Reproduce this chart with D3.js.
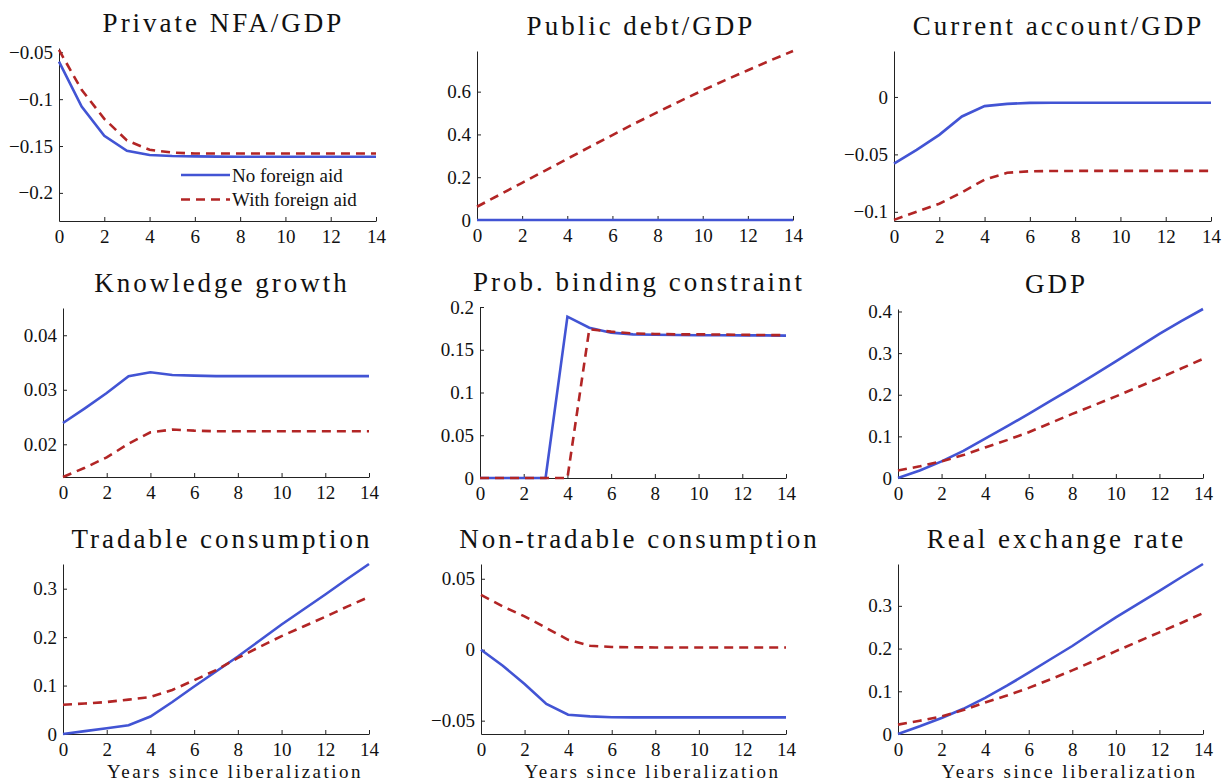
<!DOCTYPE html>
<html>
<head>
<meta charset="utf-8">
<script src="https://cdn.jsdelivr.net/npm/d3@7"></script>
<style>
  html, body { margin: 0; padding: 0; background: #fff; }
  svg { display: block; font-family: "Liberation Serif", serif; }
</style>
</head>
<body>
<svg id="chart" width="1225" height="782"></svg>
<script>
// years on the x axis
const years = [0, 1, 2, 3, 4, 5, 6, 7, 8, 9, 10, 11, 12, 13, 14];
const xTicks = [0, 2, 4, 6, 8, 10, 12, 14];

const titles = [
  "Private NFA/GDP", "Public debt/GDP", "Current account/GDP",
  "Knowledge growth", "Prob. binding constraint", "GDP",
  "Tradable consumption", "Non-tradable consumption", "Real exchange rate"
];

const seriesNames = ["No foreign aid", "With foreign aid"];
const xLabel = "Years since liberalization";

// y limits and ticks
const yDomains = [
  [-0.23, -0.0454], [0, 0.79], [-0.108, 0.04],
  [0.014, 0.045], [0, 0.2], [0, 0.406],
  [0, 0.351], [-0.0594, 0.0604], [0, 0.398]
];
const yTicks = [
  [-0.2, -0.15, -0.1, -0.05], [0, 0.2, 0.4, 0.6], [-0.1, -0.05, 0],
  [0.02, 0.03, 0.04], [0, 0.05, 0.1, 0.15, 0.2], [0, 0.1, 0.2, 0.3, 0.4],
  [0, 0.1, 0.2, 0.3], [-0.05, 0, 0.05], [0, 0.1, 0.2, 0.3]
];

// no foreign aid (solid blue)
const noAid = [
  [-0.06, -0.108, -0.139, -0.155, -0.1596, -0.1606, -0.161, -0.1613, -0.1614, -0.1615, -0.1615, -0.1615, -0.1615, -0.1615, -0.1615],
  [0, 0, 0, 0, 0, 0, 0, 0, 0, 0, 0, 0, 0, 0, 0],
  [-0.058, -0.046, -0.033, -0.017, -0.008, -0.006, -0.0052, -0.005, -0.005, -0.005, -0.005, -0.005, -0.005, -0.005, -0.005],
  [0.0239, 0.0266, 0.0294, 0.0325, 0.0332, 0.0327, 0.0326, 0.0325, 0.0325, 0.0325, 0.0325, 0.0325, 0.0325, 0.0325, 0.0325],
  [0, 0, 0, 0, 0.1887, 0.1758, 0.170, 0.168, 0.1675, 0.1672, 0.167, 0.167, 0.1668, 0.1668, 0.1665],
  [0, 0.018, 0.04, 0.065, 0.0944, 0.124, 0.154, 0.185, 0.216, 0.248, 0.28, 0.313, 0.346, 0.377, 0.406],
  [0, 0.006, 0.012, 0.018, 0.036, 0.066, 0.098, 0.129, 0.16, 0.193, 0.226, 0.257, 0.288, 0.32, 0.351],
  [0, -0.0113, -0.0242, -0.0382, -0.0458, -0.047, -0.0476, -0.0477, -0.0477, -0.0477, -0.0477, -0.0477, -0.0477, -0.0477, -0.0477],
  [0, 0.018, 0.0376, 0.059, 0.0847, 0.113, 0.1435, 0.175, 0.206, 0.24, 0.273, 0.304, 0.335, 0.367, 0.398]
];

// with foreign aid (dashed red)
const withAid = [
  [-0.0475, -0.09, -0.121, -0.144, -0.154, -0.157, -0.158, -0.158, -0.158, -0.158, -0.158, -0.158, -0.158, -0.158, -0.158],
  [0.062, 0.118, 0.174, 0.23, 0.286, 0.342, 0.397, 0.452, 0.504, 0.556, 0.606, 0.654, 0.70, 0.746, 0.79],
  [-0.107, -0.1, -0.093, -0.083, -0.072, -0.066, -0.0647, -0.0645, -0.0644, -0.0644, -0.0644, -0.0644, -0.0644, -0.0644, -0.0644],
  [0.014, 0.0157, 0.0176, 0.0201, 0.0222, 0.0227, 0.0225, 0.0224, 0.0224, 0.0224, 0.0224, 0.0224, 0.0224, 0.0224, 0.0224],
  [0, 0, 0, 0, 0, 0.174, 0.1712, 0.169, 0.1685, 0.168, 0.168, 0.1678, 0.1675, 0.1672, 0.167],
  [0.018, 0.028, 0.04, 0.055, 0.0735, 0.091, 0.11, 0.132, 0.154, 0.175, 0.196, 0.218, 0.24, 0.263, 0.286],
  [0.0605, 0.063, 0.066, 0.071, 0.0764, 0.091, 0.111, 0.132, 0.157, 0.18, 0.202, 0.222, 0.242, 0.263, 0.283],
  [0.0387, 0.0305, 0.0235, 0.0153, 0.007, 0.0028, 0.0019, 0.0017, 0.0016, 0.0016, 0.0016, 0.0016, 0.0016, 0.0016, 0.0016],
  [0.022, 0.031, 0.041, 0.056, 0.074, 0.09, 0.108, 0.128, 0.149, 0.171, 0.194, 0.216, 0.238, 0.26, 0.283]
];

// axes boxes in page pixels: left, top, right, bottom
const layout = [
  [59, 48, 376, 221], [477, 51, 793, 220], [894, 51, 1211, 221],
  [63, 308, 369, 477], [480, 307, 786, 478], [898, 309, 1203, 478],
  [63, 564, 369, 734], [481, 564, 786, 734], [898, 564, 1203, 734]
];

const BLUE = "#4254d4";
const RED = "#b22525";
const fmt = d3.format("~g");

const svg = d3.select("#chart");

function drawPanel(i) {
  const [l, t, r, b] = layout[i];
  const g = svg.append("g").attr("transform", `translate(${l},${t})`);
  const w = r - l, h = b - t;

  const x = d3.scaleLinear().domain([0, 14]).range([0, w]);
  const y = d3.scaleLinear().domain(yDomains[i]).range([h, 0]);

  // matlab style axes, ticks pointing in
  const xa = g.append("g")
    .attr("transform", `translate(0,${h})`)
    .call(d3.axisBottom(x).tickValues(xTicks).tickFormat(fmt)
      .tickSizeInner(-4).tickSizeOuter(0).tickPadding(9));
  const ya = g.append("g")
    .call(d3.axisLeft(y).tickValues(yTicks[i]).tickFormat(fmt)
      .tickSizeInner(-4).tickSizeOuter(0).tickPadding(6));

  [xa, ya].forEach(a => {
    a.attr("font-family", null).attr("font-size", 19);
    a.selectAll("path, line").attr("stroke", "#222").attr("stroke-width", 1);
    a.selectAll("text").attr("fill", "#111");
  });

  // title
  g.append("text")
    .attr("x", w / 2 + 6)
    .attr("y", -16)
    .attr("text-anchor", "middle")
    .attr("font-size", 27)
    .attr("letter-spacing", 3)
    .attr("fill", "#111")
    .text(titles[i]);

  // bottom row gets an x label
  if (i >= 6) {
    g.append("text")
      .attr("x", w / 2 + 19)
      .attr("y", h + 44)
      .attr("text-anchor", "middle")
      .attr("font-size", 19)
      .attr("letter-spacing", 2.5)
      .attr("fill", "#111")
      .text(xLabel);
  }

  const line = d3.line()
    .x((d, j) => x(years[j]))
    .y(d => y(d));

  g.append("path")
    .datum(noAid[i])
    .attr("d", line)
    .attr("fill", "none")
    .attr("stroke", BLUE)
    .attr("stroke-width", 2.6);

  g.append("path")
    .datum(withAid[i])
    .attr("d", line)
    .attr("fill", "none")
    .attr("stroke", RED)
    .attr("stroke-width", 2.6)
    .attr("stroke-dasharray", "9,6");
}

for (let i = 0; i < titles.length; i++) drawPanel(i);

// legend inside first panel
const legend = svg.append("g").attr("transform", "translate(181,175)");
seriesNames.forEach((name, k) => {
  const row = legend.append("g").attr("transform", `translate(0,${k * 24.5})`);
  row.append("line")
    .attr("x1", 0).attr("x2", 49)
    .attr("stroke", k === 0 ? BLUE : RED)
    .attr("stroke-width", 2.6)
    .attr("stroke-dasharray", k === 0 ? null : "9,6");
  row.append("text")
    .attr("x", 51)
    .attr("y", 6.5)
    .attr("font-size", 19)
    .attr("fill", "#111")
    .text(name);
});
</script>
</body>
</html>
